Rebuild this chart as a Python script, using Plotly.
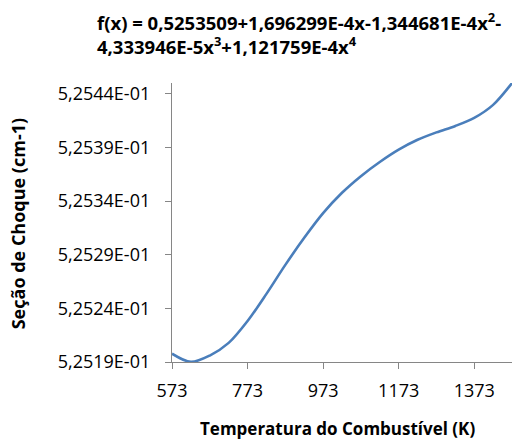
import plotly.graph_objects as go

# Fuel temperature (K) and collision cross-section (cm-1)
temperatura = [573, 623, 673, 723, 773, 823, 873, 923, 973, 1023,
               1073, 1123, 1173, 1223, 1273, 1323, 1373, 1423, 1473]
secao_choque = [0.5251978, 0.5251901, 0.5251960, 0.5252078, 0.5252282,
                0.5252535, 0.5252805, 0.5253057, 0.5253287, 0.5253477,
                0.5253632, 0.5253764, 0.5253879, 0.5253971, 0.5254040,
                0.5254100, 0.5254175, 0.5254296, 0.5254499]

x_ticks = [573, 773, 973, 1173, 1373]
y_ticks = [0.52519, 0.52524, 0.52529, 0.52534, 0.52539, 0.52544]
y_tick_labels = ["5,2519E-01", "5,2524E-01", "5,2529E-01",
                 "5,2534E-01", "5,2539E-01", "5,2544E-01"]

titulo = ("f(x) = 0,5253509+1,696299E-4x-1,344681E-4x<sup>2</sup>-<br>"
          "4,333946E-5x<sup>3</sup>+1,121759E-4x<sup>4</sup>")
titulo_x = "Temperatura do Combustível (K)"
titulo_y = "Seção de Choque (cm-1)"

FONT = "Open Sans"
AXIS_GRAY = "#868686"

fig = go.Figure()
fig.add_trace(go.Scatter(
    x=temperatura, y=secao_choque, mode="lines",
    line=dict(color="#4A7EBB", width=2.6, shape="spline", smoothing=0.9),
    hoverinfo="skip", showlegend=False,
))

fig.update_layout(
    width=513, height=444,
    margin=dict(l=172, r=1, t=83, b=82),
    paper_bgcolor="white", plot_bgcolor="white",
    font=dict(family=FONT, size=18, color="black"),
    title=dict(
        text=titulo, xref="container", yref="container",
        x=97 / 513, xanchor="left", y=1 - 30 / 444, yanchor="top",
        font=dict(family=FONT, size=18.5, color="black", weight="bold"),
    ),
    xaxis=dict(
        range=[573, 1473], tickvals=x_ticks,
        showline=True, linecolor=AXIS_GRAY, linewidth=1.3,
        ticks="outside", ticklen=6, tickcolor=AXIS_GRAY, tickwidth=1.3,
        showgrid=False, zeroline=False,
        tickfont=dict(family=FONT, size=18, color="black"),
        ticklabelstandoff=6,
    ),
    yaxis=dict(
        range=[0.52519, 0.52545], tickvals=y_ticks, ticktext=y_tick_labels,
        showline=True, linecolor=AXIS_GRAY, linewidth=1.3,
        ticks="outside", ticklen=6, tickcolor=AXIS_GRAY, tickwidth=1.3,
        showgrid=False, zeroline=False,
        tickfont=dict(family=FONT, size=18, color="black"),
        ticklabelstandoff=11,
    ),
    annotations=[
        dict(text=titulo_x, xref="paper", yref="paper",
             x=(337 - 172) / 340, y=(361.7 - 428) / 279,
             xanchor="center", yanchor="middle", showarrow=False,
             font=dict(family=FONT, size=17, color="black", weight="bold")),
        dict(text=titulo_y, xref="paper", yref="paper",
             x=(18 - 172) / 340, y=(361.7 - 224) / 279, textangle=-90,
             xanchor="center", yanchor="middle", showarrow=False,
             font=dict(family=FONT, size=18, color="black", weight="bold")),
    ],
)

fig.write_html("out.html")
